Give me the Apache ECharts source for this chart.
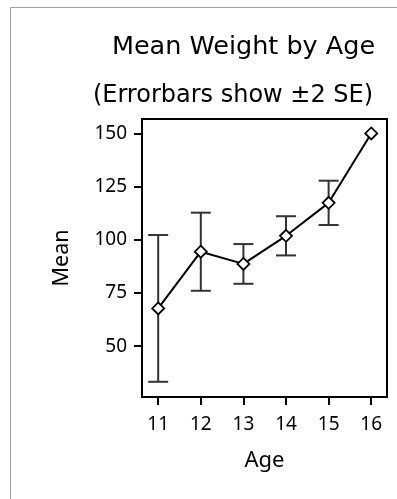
<!DOCTYPE html>
<html>
<head>
<meta charset="utf-8">
<script src="https://cdn.jsdelivr.net/npm/echarts@6/dist/echarts.min.js"></script>
<style>html,body{margin:0;padding:0;background:#fff;}#c{width:397px;height:499px;}</style>
</head>
<body>
<div id="c"></div>
<script>
var ages = [11, 12, 13, 14, 15, 16];
var means = [67.75, 94.4, 88.67, 101.88, 117.38, 150];
var lower = [33.25, 76.04, 79.33, 92.66, 106.95, null];
var upper = [102.25, 112.76, 98.0, 111.09, 127.79, null];
var yTicks = [50, 75, 100, 125, 150];
var xTicks = [11, 12, 13, 14, 15, 16];
var titleLines = ['Mean Weight by Age', '(Errorbars show \u00b12 SE)'];

var labelFont = '"Noto Sans"';
var chart = echarts.init(document.getElementById('c'));
var lineData = ages.map(function (a, i) { return [a, means[i]]; });
var errData = [];
ages.forEach(function (a, i) { if (lower[i] != null) errData.push([a, lower[i], upper[i]]); });

chart.setOption({
  animation: false,
  backgroundColor: '#fff',
  graphic: [
    { type: 'rect', shape: { x: 10.5, y: 7.5, width: 600, height: 600 }, style: { fill: 'none', stroke: '#a0a0a0', lineWidth: 1 }, silent: true },
    { type: 'text', x: 243.5, y: 47, style: { text: titleLines[0], font: '25.5px "DejaVu Sans"', fill: '#000', align: 'center', verticalAlign: 'middle' } },
    { type: 'text', x: 233, y: 96, style: { text: titleLines[1], font: '24px "DejaVu Sans"', fill: '#000', align: 'center', verticalAlign: 'middle' } }
  ],
  grid: { left: 142, right: 10, top: 119, bottom: 102, show: true, borderColor: '#000', borderWidth: 2, backgroundColor: 'transparent' },
  xAxis: {
    type: 'value', min: 10.62, max: 16.37,
    name: 'Age', nameLocation: 'middle', nameGap: 53,
    nameTextStyle: { fontFamily: labelFont, fontSize: 22, color: '#000' },
    axisLine: { show: true, onZero: false, lineStyle: { color: '#000', width: 2 } },
    axisTick: { show: true, inside: false, length: 8, customValues: xTicks, lineStyle: { color: '#000', width: 2 } },
    axisLabel: { customValues: xTicks, margin: 18, fontFamily: labelFont, fontSize: 19, color: '#000' },
    splitLine: { show: false }
  },
  yAxis: {
    type: 'value', min: 26.1, max: 156.8,
    name: 'Mean', nameLocation: 'middle', nameGap: 69, nameRotate: 90,
    nameTextStyle: { fontFamily: labelFont, fontSize: 21.5, color: '#000' },
    axisLine: { show: true, onZero: false, lineStyle: { color: '#000', width: 2 } },
    axisTick: { show: true, inside: false, length: 8, customValues: yTicks, lineStyle: { color: '#000', width: 2 } },
    axisLabel: { customValues: yTicks, margin: 15, fontFamily: labelFont, fontSize: 19, color: '#000' },
    splitLine: { show: false }
  },
  series: [
    {
      type: 'custom',
      data: errData,
      z: 1,
      renderItem: function (params, api) {
        var x = api.value(0);
        var lo = api.coord([x, api.value(1)]);
        var hi = api.coord([x, api.value(2)]);
        var hw = 10;
        var st = { stroke: '#333', lineWidth: 2 };
        return {
          type: 'group',
          children: [
            { type: 'line', shape: { x1: lo[0], y1: lo[1], x2: hi[0], y2: hi[1] }, style: st },
            { type: 'line', shape: { x1: lo[0] - hw, y1: lo[1], x2: lo[0] + hw, y2: lo[1] }, style: st },
            { type: 'line', shape: { x1: hi[0] - hw, y1: hi[1], x2: hi[0] + hw, y2: hi[1] }, style: st }
          ]
        };
      }
    },
    {
      type: 'line',
      data: lineData,
      z: 2,
      symbol: 'diamond',
      symbolSize: 12,
      showAllSymbol: true,
      lineStyle: { color: '#000', width: 2 },
      itemStyle: { color: '#fff', borderColor: '#000', borderWidth: 1.8 }
    }
  ]
});
</script>
</body>
</html>
